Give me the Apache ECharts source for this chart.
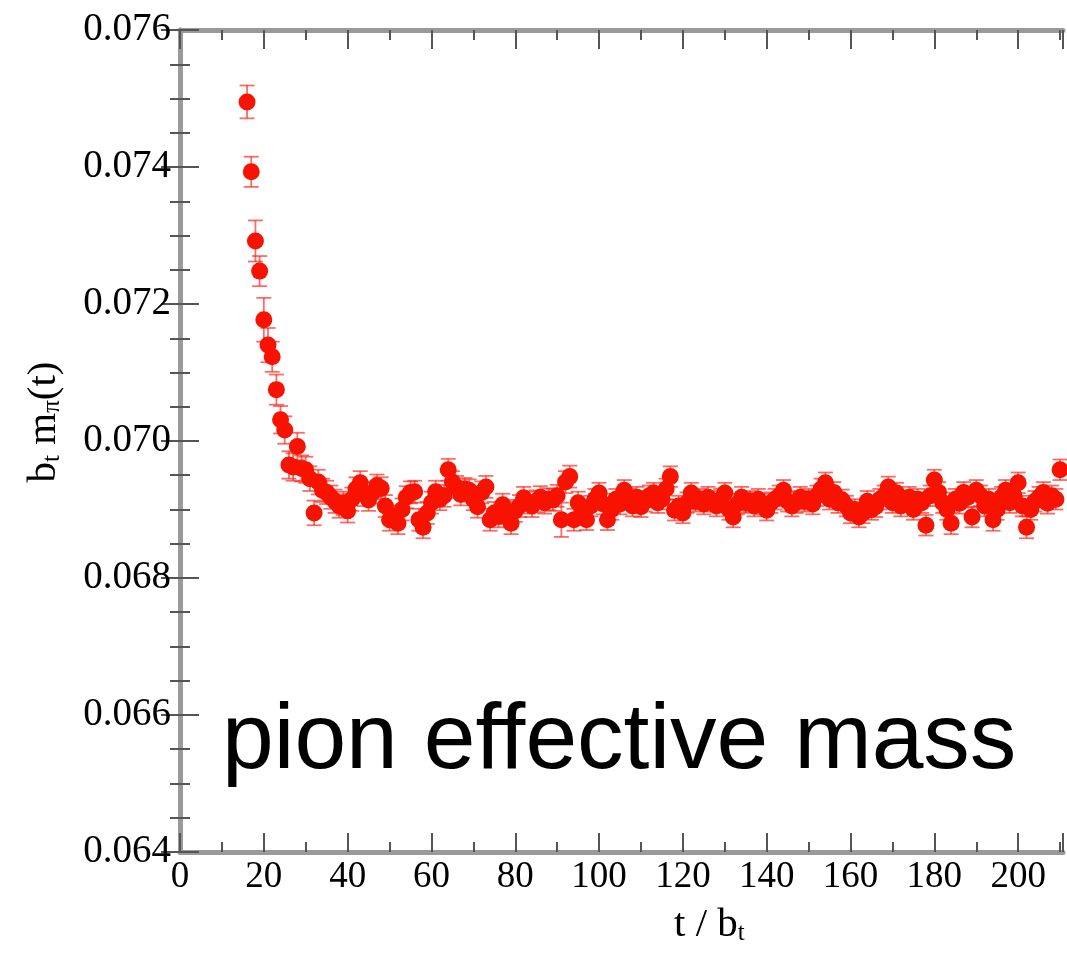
<!DOCTYPE html>
<html>
<head>
<meta charset="utf-8">
<script src="https://cdn.jsdelivr.net/npm/echarts@6/dist/echarts.min.js"></script>
<style>
html,body{margin:0;padding:0;background:#fff;}
#chart{width:1067px;height:954px;}
</style>
</head>
<body>
<div id="chart"></div>
<script>
// t / b_t values
var tValues = [16,17,18,19,20,21,22,23,24,25,26,27,28,29,30,31,32,33,34,35,36,37,38,39,40,
41,42,43,44,45,46,47,48,49,50,51,52,53,54,55,56,57,58,59,60,61,62,63,64,65,66,67,68,69,70,
71,72,73,74,75,76,77,78,79,80,81,82,83,84,85,86,87,88,89,90,91,92,93,94,95,96,97,98,99,100,
101,102,103,104,105,106,107,108,109,110,111,112,113,114,115,116,117,118,119,120,
121,122,123,124,125,126,127,128,129,130,131,132,133,134,135,136,137,138,139,140,
141,142,143,144,145,146,147,148,149,150,151,152,153,154,155,156,157,158,159,160,
161,162,163,164,165,166,167,168,169,170,171,172,173,174,175,176,177,178,179,180,
181,182,183,184,185,186,187,188,189,190,191,192,193,194,195,196,197,198,199,200,
201,202,203,204,205,206,207,208,209,210];
// effective mass b_t m_pi(t)
var massValues = [0.07495,0.07393,0.07292,0.07248,0.07177,0.07140,0.07123,0.07075,0.07031,0.07016,
0.06965,0.06962,0.06992,0.06960,0.06958,0.06945,0.06895,0.06940,0.06928,0.06925,
0.06918,0.06912,0.06905,0.06909,0.06898,0.06915,0.06930,0.06939,0.06922,0.06914,
0.06925,0.06935,0.06931,0.06905,0.06885,0.06890,0.06880,0.06900,0.06918,0.06925,
0.06926,0.06885,0.06874,0.06895,0.06910,0.06926,0.06915,0.06920,0.06958,0.06940,
0.06933,0.06922,0.06930,0.06928,0.06915,0.06904,0.06925,0.06933,0.06885,0.06895,
0.06890,0.06907,0.06895,0.06880,0.06898,0.06905,0.06917,0.06910,0.06905,0.06912,
0.06918,0.06910,0.06915,0.06914,0.06920,0.06885,0.06940,0.06948,0.06885,0.06910,
0.06895,0.06885,0.06905,0.06915,0.06924,0.06908,0.06885,0.06900,0.06915,0.06908,
0.06928,0.06915,0.06905,0.06918,0.06904,0.06912,0.06920,0.06924,0.06910,0.06915,
0.06930,0.06948,0.06899,0.06905,0.06895,0.06910,0.06924,0.06912,0.06915,0.06908,
0.06918,0.06912,0.06905,0.06915,0.06924,0.06900,0.06889,0.06908,0.06918,0.06910,
0.06912,0.06905,0.06915,0.06908,0.06899,0.06910,0.06915,0.06920,0.06928,0.06912,
0.06905,0.06910,0.06918,0.06912,0.06915,0.06908,0.06920,0.06930,0.06939,0.06915,
0.06925,0.06910,0.06914,0.06905,0.06895,0.06900,0.06889,0.06895,0.06912,0.06900,
0.06904,0.06915,0.06920,0.06933,0.06910,0.06924,0.06905,0.06912,0.06918,0.06900,
0.06915,0.06910,0.06877,0.06920,0.06943,0.06925,0.06910,0.06900,0.06880,0.06915,
0.06909,0.06925,0.06918,0.06889,0.06928,0.06920,0.06905,0.06915,0.06885,0.06900,
0.06918,0.06928,0.06910,0.06920,0.06939,0.06905,0.06874,0.06900,0.06912,0.06918,
0.06925,0.06909,0.06920,0.06915,0.06958];
// error bar half-widths
var errValues = [0.00024,0.00022,0.00030,0.00022,0.00032,0.00025,0.00022,0.00022,0.00020,0.00020,
0.00020,0.00020,0.00020,0.00019,0.00019,0.00018,0.00018,0.00018,0.00017,0.00017,
0.00017,0.00017,0.00017,0.00017,0.00017,0.00017,0.00017,0.00017,0.00017,0.00016,
0.00016,0.00016,0.00016,0.00016,0.00016,0.00016,0.00016,0.00016,0.00016,0.00016,
0.00016,0.00016,0.00016,0.00016,0.00016,0.00016,0.00016,0.00016,0.00016,0.00016,
0.00016,0.00016,0.00016,0.00016,0.00016,0.00016,0.00016,0.00016,0.00016,0.00016,
0.00016,0.00016,0.00016,0.00016,0.00016,0.00016,0.00016,0.00016,0.00016,0.00016,
0.00016,0.00016,0.00016,0.00016,0.00016,0.00025,0.00016,0.00016,0.00016,0.00016,
0.00015,0.00015,0.00015,0.00015,0.00015,0.00015,0.00015,0.00015,0.00015,0.00015,
0.00015,0.00015,0.00015,0.00015,0.00015,0.00015,0.00015,0.00015,0.00015,0.00015,
0.00015,0.00015,0.00015,0.00015,0.00015,0.00015,0.00015,0.00015,0.00015,0.00015,
0.00015,0.00015,0.00015,0.00015,0.00015,0.00015,0.00015,0.00015,0.00015,0.00015,
0.00015,0.00015,0.00015,0.00015,0.00015,0.00015,0.00015,0.00015,0.00015,0.00015,
0.00015,0.00015,0.00015,0.00015,0.00015,0.00015,0.00015,0.00015,0.00015,0.00015,
0.00015,0.00015,0.00015,0.00015,0.00015,0.00015,0.00015,0.00015,0.00015,0.00015,
0.00015,0.00015,0.00015,0.00015,0.00015,0.00015,0.00015,0.00015,0.00015,0.00015,
0.00015,0.00015,0.00015,0.00015,0.00015,0.00015,0.00015,0.00015,0.00016,0.00015,
0.00015,0.00015,0.00015,0.00015,0.00015,0.00015,0.00015,0.00015,0.00016,0.00015,
0.00015,0.00015,0.00015,0.00015,0.00015,0.00015,0.00016,0.00015,0.00015,0.00015,
0.00015,0.00015,0.00015,0.00015,0.00015];
var xTicks = {min: 0, max: 210.7, interval: 20};
var yTicks = {min: 0.064, max: 0.076, interval: 0.002};
var annotation = 'pion effective mass';

var points = [], bars = [];
for (var i = 0; i < tValues.length; i++) {
  points.push([tValues[i], massValues[i]]);
  bars.push([tValues[i], massValues[i] - errValues[i], massValues[i] + errValues[i]]);
}

var chart = echarts.init(document.getElementById('chart'), null, {renderer: 'canvas'});
var frameLine = {show: true, lineStyle: {color: '#9a9a9a', width: 5}};
var tickStyle = {color: '#555', width: 2};
var serif = 'Liberation Serif';

function xAx(pos, showLabel) {
  return {
    type: 'value', position: pos, min: xTicks.min, max: xTicks.max, interval: xTicks.interval,
    axisLine: frameLine,
    axisTick: {show: true, inside: true, length: 19, lineStyle: tickStyle},
    minorTick: {show: true, splitNumber: 2, length: 10, lineStyle: tickStyle},
    splitLine: {show: false},
    axisLabel: {show: showLabel, showMaxLabel: false, fontFamily: serif, fontSize: 37, color: '#000', margin: 7},
    gridIndex: 0
  };
}
function yAx(pos, showLabel) {
  return {
    type: 'value', position: pos, min: yTicks.min, max: yTicks.max, interval: yTicks.interval,
    axisLine: frameLine,
    axisTick: {show: true, inside: true, length: 19, lineStyle: tickStyle},
    minorTick: {show: true, splitNumber: 4, length: 10, lineStyle: tickStyle},
    splitLine: {show: false},
    axisLabel: {show: showLabel, fontFamily: serif, fontSize: 39, color: '#000', margin: 9,
      formatter: function (v) { return v.toFixed(3); }},
    gridIndex: 0
  };
}

var option = {
  animation: false,
  backgroundColor: '#fff',
  grid: {left: 180, right: 4, top: 30, bottom: 102, containLabel: false},
  xAxis: [xAx('bottom', true), xAx('top', false)],
  yAxis: [yAx('left', true), yAx('right', false)],
  series: [
    {
      type: 'custom',
      xAxisIndex: 0, yAxisIndex: 0,
      data: bars,
      renderItem: function (params, api) {
        var x = api.value(0);
        var lo = api.coord([x, api.value(1)]);
        var hi = api.coord([x, api.value(2)]);
        var hw = 7.5;
        var st = {stroke: 'rgba(248,30,20,0.65)', lineWidth: 1.8};
        return {
          type: 'group',
          children: [
            {type: 'line', shape: {x1: lo[0], y1: lo[1], x2: hi[0], y2: hi[1]}, style: st},
            {type: 'line', shape: {x1: lo[0] - hw, y1: lo[1], x2: lo[0] + hw, y2: lo[1]}, style: st},
            {type: 'line', shape: {x1: hi[0] - hw, y1: hi[1], x2: hi[0] + hw, y2: hi[1]}, style: st}
          ]
        };
      },
      z: 2
    },
    {
      type: 'scatter',
      xAxisIndex: 0, yAxisIndex: 0,
      data: points,
      symbol: 'circle',
      symbolSize: 17,
      itemStyle: {color: '#f81200', opacity: 1},
      z: 3
    }
  ],
  graphic: [
    {
      type: 'text', x: 222, y: 742,
      style: {text: annotation, fontFamily: 'Liberation Sans', fontSize: 93, fill: '#000',
        align: 'left', verticalAlign: 'middle'},
      z: 10
    },
    {
      type: 'text', x: 674, y: 925,
      style: {
        text: '{a|t / b}{s|t}',
        align: 'left', verticalAlign: 'middle',
        rich: {
          a: {fontFamily: serif, fontSize: 41, fill: '#000', lineHeight: 41, verticalAlign: 'top', padding: [0, 0, 14, 0]},
          s: {fontFamily: serif, fontSize: 25, fill: '#000', lineHeight: 25, verticalAlign: 'bottom'}
        }
      }
    },
    {
      type: 'text', x: 44, y: 422, rotation: Math.PI / 2,
      style: {
        text: '{a|b}{s|t}{a| m}{s|π}{a|(t)}',
        align: 'center', verticalAlign: 'middle',
        rich: {
          a: {fontFamily: serif, fontSize: 41, fill: '#000', lineHeight: 41, verticalAlign: 'top', padding: [0, 0, 14, 0]},
          s: {fontFamily: serif, fontSize: 25, fill: '#000', lineHeight: 25, verticalAlign: 'bottom'}
        }
      }
    }
  ]
};
chart.setOption(option);
</script>
</body>
</html>
